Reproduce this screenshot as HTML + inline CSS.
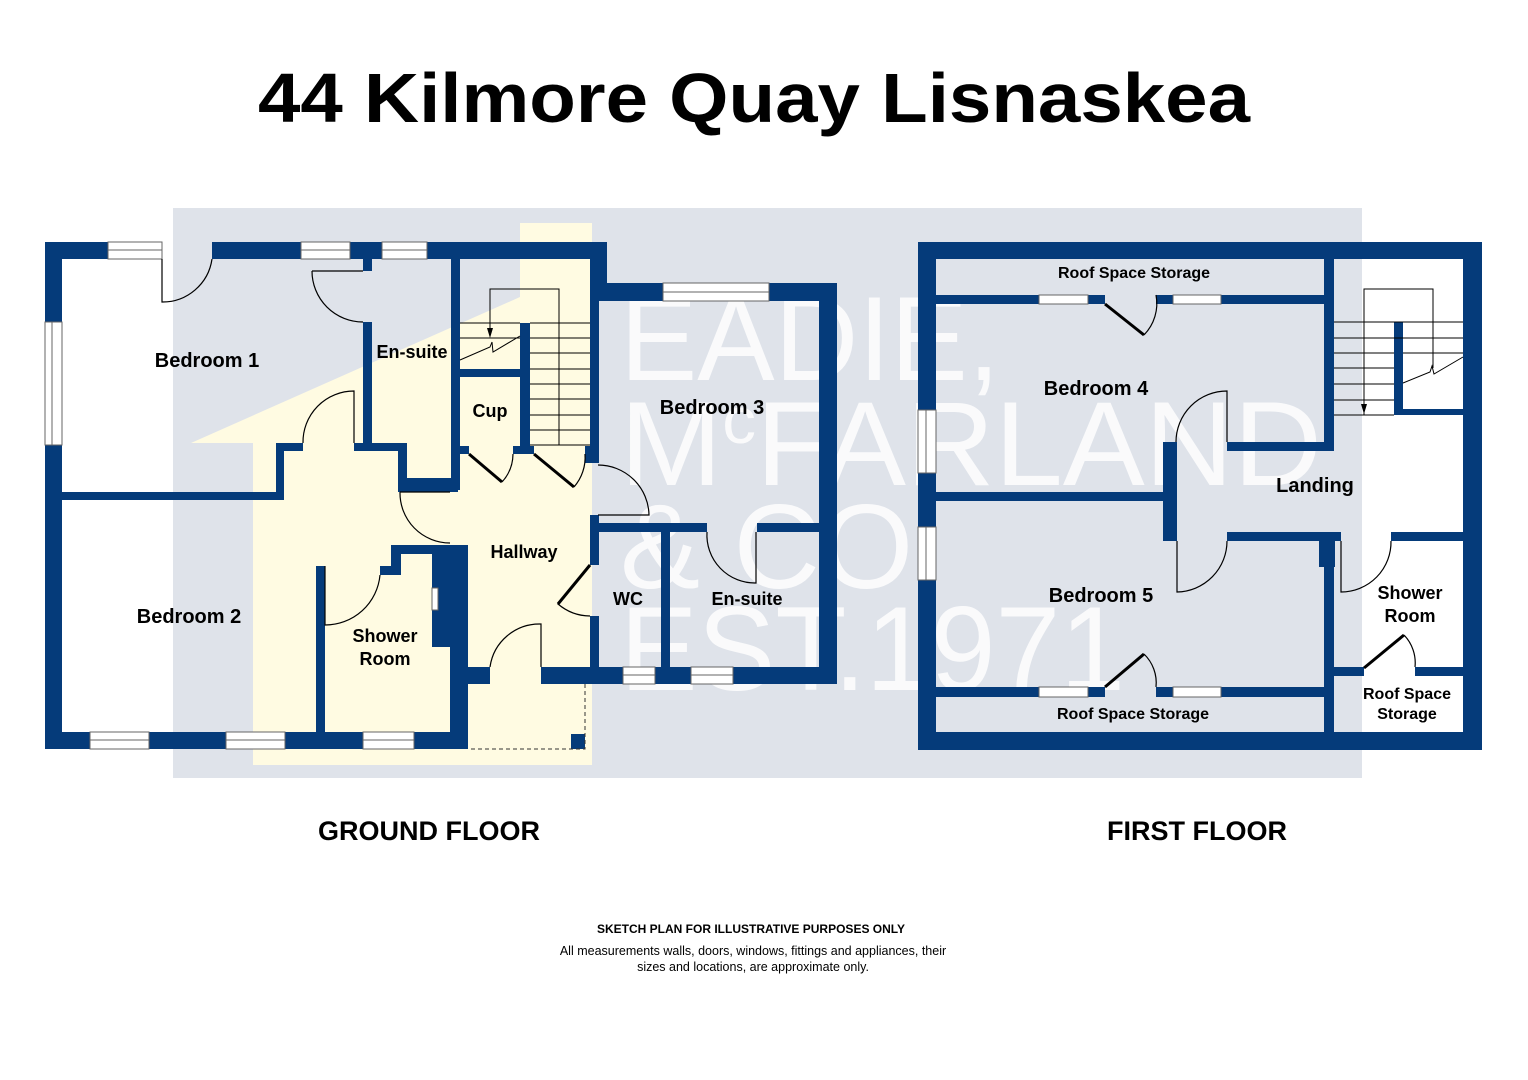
<!DOCTYPE html>
<html><head><meta charset="utf-8"><style>
html,body{margin:0;padding:0;background:#fff;}
svg{display:block;}
text{font-family:"Liberation Sans",Arial,sans-serif;}
</style></head><body>
<svg width="1528" height="1080" viewBox="0 0 1528 1080" xmlns="http://www.w3.org/2000/svg">
<rect width="1528" height="1080" fill="#fff"/>
<text x="258" y="122" font-size="70" font-weight="bold" textLength="992" lengthAdjust="spacingAndGlyphs">44 Kilmore Quay Lisnaskea</text>

<!-- backgrounds -->
<rect x="173" y="208" width="1189" height="570" fill="#dfe3ea"/>
<polygon points="191,443 520,297 520,223 592,223 592,765 253,765 253,443" fill="#fffbe2"/>
<g fill="#fff" opacity="0.85" font-size="120">
<text x="620" y="380" textLength="380" lengthAdjust="spacingAndGlyphs">EADIE,</text>
<text x="620" y="485" textLength="702" lengthAdjust="spacingAndGlyphs">M<tspan font-size="66" dy="-42">c</tspan><tspan dy="42">FARLAND</tspan></text>
<text x="620" y="588">&amp; CO</text>
<text x="620" y="690" textLength="505" lengthAdjust="spacingAndGlyphs">EST.1971</text>
</g>
<!-- white rooms outside grey -->
<rect x="62" y="259" width="111" height="233" fill="#fff"/>
<rect x="62" y="500" width="111" height="232" fill="#fff"/>
<rect x="1362" y="259" width="101" height="473" fill="#fff"/>

<g fill="#053b7a">
<rect x="45" y="242" width="17" height="507"/>
<rect x="45" y="242" width="63" height="17"/>
<rect x="212" y="242" width="395" height="17"/>
<rect x="590" y="242" width="17" height="41"/>
<rect x="590" y="283" width="247" height="18"/>
<rect x="819" y="283" width="18" height="401"/>
<rect x="45" y="732" width="423" height="17"/>
<rect x="541" y="667" width="294" height="17"/>
<rect x="450" y="667" width="40" height="17"/>
<rect x="450" y="545" width="18" height="204"/>
<rect x="571" y="734" width="14" height="15"/>
<rect x="45" y="492" width="239" height="8"/>
<rect x="276" y="443" width="8" height="57"/>
<rect x="276" y="443" width="27" height="8"/>
<rect x="354" y="443" width="53" height="8"/>
<rect x="363" y="259" width="9" height="12"/>
<rect x="363" y="322" width="9" height="129"/>
<rect x="398" y="443" width="9" height="44"/>
<rect x="398" y="478" width="62" height="9"/>
<rect x="451" y="259" width="9" height="231"/>
<rect x="398" y="480" width="60" height="12"/>
<rect x="460" y="369" width="60" height="8"/>
<rect x="520" y="323" width="10" height="131"/>
<rect x="460" y="446" width="9" height="8"/>
<rect x="513" y="446" width="21" height="8"/>
<rect x="585" y="446" width="14" height="17"/>
<rect x="590" y="259" width="9" height="204"/>
<rect x="316" y="566" width="9" height="166"/>
<rect x="391" y="545" width="68" height="9"/>
<rect x="380" y="566" width="20" height="9"/>
<rect x="391" y="545" width="10" height="30"/>
<rect x="432" y="545" width="27" height="102"/>
<rect x="450" y="545" width="9" height="130"/>
<rect x="590" y="515" width="9" height="50"/>
<rect x="590" y="616" width="9" height="55"/>
<rect x="590" y="523" width="117" height="9"/>
<rect x="757" y="523" width="70" height="9"/>
<rect x="661" y="523" width="9" height="150"/>

<rect x="918" y="242" width="564" height="17"/>
<rect x="918" y="242" width="18" height="508"/>
<rect x="1463" y="242" width="19" height="508"/>
<rect x="918" y="732" width="564" height="18"/>
<rect x="936" y="295" width="169" height="9"/>
<rect x="1156" y="295" width="178" height="9"/>
<rect x="1324" y="259" width="10" height="192"/>
<rect x="1227" y="442" width="107" height="9"/>
<rect x="1163" y="442" width="14" height="99"/>
<rect x="936" y="492" width="227" height="9"/>
<rect x="1227" y="532" width="114" height="9"/>
<rect x="1319" y="532" width="16" height="35"/>
<rect x="1324" y="532" width="10" height="200"/>
<rect x="1391" y="532" width="72" height="9"/>
<rect x="1394" y="322" width="9" height="93"/>
<rect x="1394" y="409" width="69" height="6"/>
<rect x="1334" y="667" width="30" height="9"/>
<rect x="1415" y="667" width="48" height="9"/>
<rect x="936" y="687" width="169" height="10"/>
<rect x="1156" y="687" width="168" height="10"/>
</g>

<g fill="#fff" stroke="#666" stroke-width="1">
<rect x="108" y="242" width="54" height="17"/><line x1="108" y1="250" x2="162" y2="250"/>
<rect x="301" y="242" width="49" height="17"/><line x1="301" y1="250" x2="350" y2="250"/>
<rect x="382" y="242" width="45" height="17"/><line x1="382" y1="250" x2="427" y2="250"/>
<rect x="45" y="322" width="17" height="123"/><line x1="52" y1="322" x2="52" y2="445"/>
<rect x="663" y="283" width="106" height="18"/><line x1="663" y1="292" x2="769" y2="292"/>
<rect x="90" y="732" width="59" height="17"/><line x1="90" y1="740" x2="149" y2="740"/>
<rect x="226" y="732" width="59" height="17"/><line x1="226" y1="740" x2="285" y2="740"/>
<rect x="363" y="732" width="51" height="17"/><line x1="363" y1="740" x2="414" y2="740"/>
<rect x="623" y="667" width="32" height="17"/><line x1="623" y1="675" x2="655" y2="675"/>
<rect x="691" y="667" width="42" height="17"/><line x1="691" y1="675" x2="733" y2="675"/>
<rect x="432" y="588" width="6" height="22"/>
<rect x="918" y="410" width="18" height="63"/><line x1="926" y1="410" x2="926" y2="473"/>
<rect x="918" y="527" width="18" height="53"/><line x1="926" y1="527" x2="926" y2="580"/>
<rect x="1039" y="295" width="49" height="9"/><rect x="1173" y="295" width="48" height="9"/>
<rect x="1039" y="687" width="49" height="10"/><rect x="1173" y="687" width="48" height="10"/>
</g>

<g fill="none" stroke="#000" stroke-width="1.2">
<path d="M162 259 V302 A50 50 0 0 0 212 259"/>
<path d="M312 271 H363 M312 271 A51 51 0 0 0 363 322"/>
<path d="M354 443 V391 A51 51 0 0 0 303 443"/>
<path d="M400 492 H450 M400 492 A50 50 0 0 0 450 543"/>
<path d="M325 566 V625 A55 55 0 0 0 380 575"/>
<path d="M541 667 V624 A50 50 0 0 0 490 667"/>
<path d="M598 465 A51 51 0 0 1 649 515 H598"/>
<path d="M590 565 L558 604 A50 50 0 0 0 590 616"/>
<path d="M707 532 A48 48 0 0 0 756 583 V532"/>
<path d="M502 482 A42 42 0 0 0 513 454"/>
<path d="M574 487 A45 45 0 0 0 585 454"/>
<path d="M1144 335 A45 45 0 0 0 1156 295"/>
<path d="M1227 442 V391 A51 51 0 0 0 1176 442"/>
<path d="M1177 541 V592 A51 51 0 0 0 1227 541"/>
<path d="M1341 541 V592 A50 50 0 0 0 1391 541"/>
<path d="M1404 635 A40 40 0 0 1 1415 667"/>
<path d="M1144 654 A40 40 0 0 1 1156 687"/>
</g>
<g stroke="#000" stroke-width="3" fill="none">
<line x1="469" y1="454" x2="502" y2="482"/>
<line x1="534" y1="454" x2="574" y2="487"/>
<line x1="1105" y1="304" x2="1144" y2="335"/>
<line x1="1364" y1="668" x2="1404" y2="635"/>
<line x1="1105" y1="687" x2="1144" y2="654"/>
<line x1="590" y1="565" x2="558" y2="604"/>
</g>
<path d="M585 684 V749 H468" fill="none" stroke="#333" stroke-width="1" stroke-dasharray="4,3"/>

<g stroke="#000" stroke-width="1" fill="none">
<path d="M530 323 H590 M530 338 H590 M530 353 H590 M530 369 H590 M530 384 H590 M530 399 H590 M530 415 H590 M530 430 H590 M530 445 H590"/>
<path d="M460 323 H520 M460 338 H520"/>
<path d="M559 445 V289 H490 V330"/>
<path d="M460 360 L490 347 L492 342 L493 352 L520 336"/>
<path d="M1334 322 H1463 M1334 338 H1463 M1334 353 H1394 M1334 368 H1394 M1334 384 H1394 M1334 400 H1394 M1334 415 H1394 M1403 353 H1463"/>
<path d="M1364 415 V289 H1433 V368"/>
<path d="M1403 383 L1430 372 L1432 366 L1434 374 L1463 357"/>
</g>
<polygon points="487,328 493,328 490,338" fill="#000"/>
<polygon points="1361,404 1367,404 1364,414" fill="#000"/>

<g font-weight="bold" fill="#000" text-anchor="middle">
<text x="207" y="367" font-size="20">Bedroom 1</text>
<text x="412" y="358" font-size="18">En-suite</text>
<text x="490" y="417" font-size="18">Cup</text>
<text x="712" y="414" font-size="20">Bedroom 3</text>
<text x="524" y="558" font-size="18">Hallway</text>
<text x="189" y="623" font-size="20">Bedroom 2</text>
<text x="385" y="642" font-size="18">Shower</text>
<text x="385" y="665" font-size="18">Room</text>
<text x="628" y="605" font-size="18">WC</text>
<text x="747" y="605" font-size="18">En-suite</text>
<text x="1134" y="278" font-size="16">Roof Space Storage</text>
<text x="1096" y="395" font-size="20">Bedroom 4</text>
<text x="1315" y="492" font-size="20">Landing</text>
<text x="1101" y="602" font-size="20">Bedroom 5</text>
<text x="1410" y="599" font-size="18">Shower</text>
<text x="1410" y="622" font-size="18">Room</text>
<text x="1133" y="719" font-size="16">Roof Space Storage</text>
<text x="1407" y="699" font-size="16">Roof Space</text>
<text x="1407" y="719" font-size="16">Storage</text>
<text x="429" y="840" font-size="27">GROUND FLOOR</text>
<text x="1197" y="840" font-size="27">FIRST FLOOR</text>
<text x="751" y="933" font-size="12">SKETCH PLAN FOR ILLUSTRATIVE PURPOSES ONLY</text>
</g>
<g fill="#000" text-anchor="middle" font-size="12.5">
<text x="753" y="955">All measurements walls, doors, windows, fittings and appliances, their</text>
<text x="753" y="971">sizes and locations, are approximate only.</text>
</g>
</svg>
</body></html>
